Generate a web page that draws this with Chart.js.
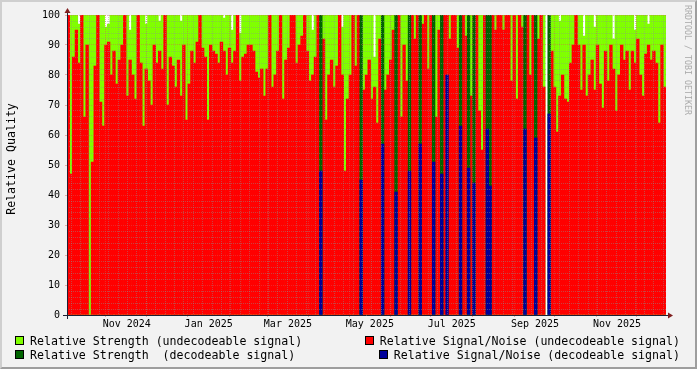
<!DOCTYPE html>
<html>
<head>
<meta charset="utf-8">
<script src="https://cdn.jsdelivr.net/npm/chart.js@4.4.1/dist/chart.umd.min.js"></script>
<style>
  html, body { margin: 0; padding: 0; background: #f2f2f2; }
  #wrap { position: relative; width: 697px; height: 369px; overflow: hidden; font-family: "DejaVu Sans Mono", monospace; }
  canvas { position: absolute; left: 0; top: 0; }
  #frame { position: absolute; left: 0; top: 0; width: 697px; height: 369px; box-sizing: border-box;
           border-top: 2px solid #cfcfcf; border-left: 2px solid #cfcfcf;
           border-right: 2px solid #9e9e9e; border-bottom: 2px solid #9e9e9e; pointer-events: none; }
  .txt { position: absolute; font-size: 11.6px; line-height: 14px; height: 14px; white-space: pre; color: #000; }
  .box { position: absolute; width: 7px; height: 7px; border: 1px solid #000; }
  #ytitle { position: absolute; left: -45px; top: 152px; width: 112px; text-align: center; transform: rotate(-90deg); }
  #mark { position: absolute; left: 633px; top: 55px; width: 110px; height: 10px; line-height: 10px; font-size: 8.3px;
          text-align: center; white-space: pre; color: #ababab; transform: rotate(90deg); }
</style>
</head>
<body>
<div id="wrap">
  <canvas id="chart" width="697" height="369"></canvas>
  <div class="txt" id="ytitle">Relative Quality</div>
  <div id="mark">RRDTOOL / TOBI OETIKER</div>

  <div class="box" style="left:15px;top:336px;background:#80ff00"></div>
  <div class="txt" style="left:30px;top:334px">Relative Strength (undecodeable signal)</div>
  <div class="box" style="left:15px;top:350px;background:#006400"></div>
  <div class="txt" style="left:30px;top:348px">Relative Strength  (decodeable signal)</div>

  <div class="box" style="left:365px;top:336px;background:#ff0000"></div>
  <div class="txt" style="right:17px;top:334px">Relative Signal/Noise (undecodeable signal)</div>
  <div class="box" style="left:379px;top:350px;background:#000099"></div>
  <div class="txt" style="right:17px;top:348px">Relative Signal/Noise (decodeable signal)</div>
  <div id="frame"></div>
</div>
<script>
// every value is one 2-day bin, first bin starts 2024-10-03
const startDate = '2024-10-03';
const binDays = 2;

// relative signal/noise, undecodeable signal (red)
const snrUndecoded = [
  100, 47, 86, 95, 84, 100, 66, 90, 0, 51,
  83, 100, 71, 63, 90, 91, 80, 88, 77, 85,
  90, 100, 73, 85, 80, 72, 100, 84, 63, 82,
  78, 70, 90, 84, 88, 82, 100, 70, 86, 83,
  76, 85, 73, 90, 65, 77, 88, 84, 91, 100,
  89, 86, 65, 90, 88, 87, 84, 91, 88, 80,
  89, 84, 88, 100, 78, 86, 87, 90, 90, 88,
  81, 79, 82, 73, 82, 100, 76, 80, 88, 100,
  72, 85, 89, 100, 100, 84, 90, 93, 100, 88,
  78, 80, 86, 100, null, 92, 65, 80, 85, 76,
  83, 100, 80, 48, 72, 80, 100, 83, 100, null,
  75, 80, 85, 72, 76, 64, 92, null, 75, 80,
  85, 95, null, 100, 66, 90, 78, null, 100, 92,
  100, null, 97, 100, 82, 100, null, 66, 95, null,
  100, 100, 92, 100, 100, 89, null, 100, 93, null,
  73, null, 100, 68, 55, 100, null, null, 100, 95,
  100, 100, 95, 100, 100, 78, 100, 72, 100, 96,
  null, 100, 80, 100, null, 92, 100, 76, null, null,
  88, 76, 61, 73, 80, 72, 71, 84, 90, 100,
  90, 75, 90, 73, 80, 85, 75, 90, 77, 69,
  88, 78, 90, 82, 68, 80, 90, 85, 88, 75,
  88, 84, 92, 80, 73, 87, 90, 85, 88, 84, 64, 90, 76
];

// relative strength, undecodeable signal (light green)
const strengthUndecoded = [
  100, 100, 100, 100, 97, 100, 100, 100, 100, 100,
  100, 100, 100, 100, 96, 97, 100, 100, 100, 100,
  100, 100, 100, 95, 100, 100, 100, 100, 100, 97,
  100, 100, 100, 100, 98, 100, 100, 100, 100, 100,
  100, 100, 98, 100, 100, 100, 100, 100, 100, 100,
  100, 100, 100, 100, 100, 100, 100, 100, 99, 100,
  100, 95, 100, 100, 94, 100, 100, 100, 100, 100,
  100, 100, 100, 100, 100, 100, 100, 100, 100, 100,
  100, 100, 100, 100, 100, 100, 100, 100, 100, 100,
  100, 95, 100, 100, null, 100, 100, 100, 100, 100,
  100, 100, 96, 100, 100, 100, 100, 100, 100, null,
  100, 100, 100, 100, 86, 100, 100, null, 100, 100,
  100, 100, null, 100, 100, 100, 100, null, 100, 100,
  100, null, 100, 100, 100, 100, null, 100, 100, null,
  100, 100, 100, 100, 100, 100, null, 100, 100, null,
  100, null, 100, 100, 100, 100, null, null, 100, 100,
  100, 100, 100, 85, 100, 100, 100, 100, 100, 100,
  null, 100, 100, 100, null, 100, 100, 100, null, null,
  100, 100, 100, 98, 100, 100, 100, 100, 100, 100,
  100, 100, 93, 100, 100, 100, 96, 100, 100, 100,
  100, 100, 100, 92, 100, 100, 100, 100, 100, 100,
  100, 95, 100, 100, 100, 100, 97, 100, 100, 100, 100, 100, 100
];

// days with a decodeable signal
const decodeDates = [
  '2025-04-09', '2025-05-09', '2025-05-25', '2025-06-04', '2025-06-14', '2025-06-22',
  '2025-07-02', '2025-07-08', '2025-07-12', '2025-07-22', '2025-07-28', '2025-08-01',
  '2025-08-11', '2025-08-13', '2025-09-08', '2025-09-16', '2025-09-26'
];
const strengthDecoded = [100, 100, 100, 100, 100, 100, 100, 100, null, 100, 100, 100, 100, 100, 100, 100, 100];
const snrDecoded = [48, 45, 57, 41, 48, 57, 51, 47, 80, 63, 49, 44, 62, 43, 62, 59, 67];

// x axis: grid at every month, labels every two months
const monthStarts = [
  '2024-11-01', '2024-12-01', '2025-01-01', '2025-02-01', '2025-03-01', '2025-04-01', '2025-05-01',
  '2025-06-01', '2025-07-01', '2025-08-01', '2025-09-01', '2025-10-01', '2025-11-01', '2025-12-01'
];
const labelMonths = ['2024-11-01', '2025-01-01', '2025-03-01', '2025-05-01', '2025-07-01', '2025-09-01', '2025-11-01'];
const monthLabels = ['Nov 2024', 'Jan 2025', 'Mar 2025', 'May 2025', 'Jul 2025', 'Sep 2025', 'Nov 2025'];

const LIME = '#80ff00', RED = '#ff0000', DKGREEN = '#006400', BLUE = '#000099';
const GRID = 'rgba(143,143,143,0.45)';
const MGRID = 'rgba(222,79,79,0.45)';
const AXIS = '#1f1f33';
const ARROW = '#801f1f';
const totalDays = snrUndecoded.length * binDays;

function dayOf(s) {
  const a = s.split('-').map(Number), b = startDate.split('-').map(Number);
  return (Date.UTC(a[0], a[1] - 1, a[2]) - Date.UTC(b[0], b[1] - 1, b[2])) / 864e5;
}
const binPoints = arr => arr.map((v, i) => ({ x: i * binDays + binDays / 2, y: v }));
const decodePoints = arr => arr.map((v, i) => ({ x: dayOf(decodeDates[i]) + binDays / 2, y: v }));

Chart.defaults.font.family = '"DejaVu Sans Mono", monospace';

// white canvas behind the plot, axis lines and arrows like rrdtool
const rrdLook = {
  id: 'rrdLook',
  beforeDraw(chart) {
    const { ctx, chartArea: a } = chart;
    ctx.save();
    ctx.fillStyle = '#ffffff';
    ctx.fillRect(a.left, a.top, a.right - a.left, a.bottom - a.top);
    ctx.restore();
  },
  afterDraw(chart) {
    const { ctx, chartArea: a } = chart;
    ctx.save();
    ctx.strokeStyle = AXIS;
    ctx.lineWidth = 1;
    ctx.beginPath();
    ctx.moveTo(a.left - 4, a.bottom + 0.5);
    ctx.lineTo(a.right + 4, a.bottom + 0.5);
    ctx.moveTo(a.left + 0.5, a.bottom + 4);
    ctx.lineTo(a.left + 0.5, a.top - 4);
    ctx.stroke();
    ctx.fillStyle = ARROW;
    ctx.beginPath();
    ctx.moveTo(a.right + 2, a.bottom - 2.5);
    ctx.lineTo(a.right + 2, a.bottom + 3.5);
    ctx.lineTo(a.right + 7, a.bottom + 0.5);
    ctx.closePath();
    ctx.fill();
    ctx.beginPath();
    ctx.moveTo(a.left - 2.5, a.top - 2);
    ctx.lineTo(a.left + 3.5, a.top - 2);
    ctx.lineTo(a.left + 0.5, a.top - 7);
    ctx.closePath();
    ctx.fill();
    ctx.restore();
  }
};

const tickFont = { family: '"DejaVu Sans Mono", monospace', size: 10 };

new Chart(document.getElementById('chart'), {
  type: 'bar',
  data: {
    datasets: [
      { label: 'Relative Signal/Noise (decodeable signal)', data: decodePoints(snrDecoded), backgroundColor: BLUE },
      { label: 'Relative Strength  (decodeable signal)', data: decodePoints(strengthDecoded), backgroundColor: DKGREEN },
      { label: 'Relative Signal/Noise (undecodeable signal)', data: binPoints(snrUndecoded), backgroundColor: RED },
      { label: 'Relative Strength (undecodeable signal)', data: binPoints(strengthUndecoded), backgroundColor: LIME }
    ]
  },
  options: {
    responsive: false,
    animation: false,
    events: [],
    layout: { padding: { top: 15, right: 31, bottom: 0, left: 0 } },
    datasets: {
      bar: { grouped: false, barPercentage: 1, categoryPercentage: 1, borderWidth: 0, xAxisID: 'x', yAxisID: 'y' }
    },
    plugins: { legend: { display: false }, tooltip: { enabled: false } },
    scales: {
      x: {
        type: 'linear', min: 0, max: totalDays, offset: false, weight: 0,
        afterBuildTicks: s => { s.ticks = monthStarts.map(d => ({ value: dayOf(d) })); },
        afterFit: s => { s.height = 0; },
        ticks: { display: false },
        grid: { offset: false, color: MGRID, z: 1, drawTicks: true, tickLength: 2, tickColor: MGRID },
        border: { display: false, dash: [1, 1] }
      },
      xWeek: {
        type: 'linear', position: 'bottom', min: 0, max: totalDays, offset: false, weight: 0,
        afterBuildTicks: s => {
          const t = [];
          for (let d = 3; d < totalDays; d += 7) t.push({ value: d });
          s.ticks = t;
        },
        afterFit: s => { s.height = 0; },
        ticks: { display: false },
        grid: { offset: false, color: GRID, z: 1, drawTicks: false },
        border: { display: false, dash: [1, 1] }
      },
      xLab: {
        type: 'linear', position: 'bottom', min: 0, max: totalDays, offset: false, weight: 1,
        afterBuildTicks: s => { s.ticks = labelMonths.map(d => ({ value: dayOf(d) + 15.5 })); },
        afterFit: s => { s.height = 54; },
        ticks: {
          autoSkip: false, maxRotation: 0, padding: 3, color: '#000', font: tickFont,
          callback: (v, i) => monthLabels[i]
        },
        grid: { display: false, drawTicks: false },
        border: { display: false }
      },
      y: {
        min: 0, max: 100, weight: 1,
        afterFit: s => { s.width = 67; },
        ticks: { stepSize: 10, padding: 5, color: '#000', font: tickFont },
        grid: { color: MGRID, z: 1, tickLength: 2, tickColor: MGRID },
        border: { display: false, dash: [1, 1] }
      },
      yMinor: {
        position: 'left', min: 0, max: 100, weight: 0,
        afterFit: s => { s.width = 0; },
        ticks: { display: false, stepSize: 2 },
        grid: { color: c => (c.tick && c.tick.value % 10 === 0) ? 'rgba(0,0,0,0)' : GRID, z: 1, drawTicks: false },
        border: { display: false, dash: [1, 1] }
      }
    }
  },
  plugins: [rrdLook]
});
</script>
</body>
</html>
